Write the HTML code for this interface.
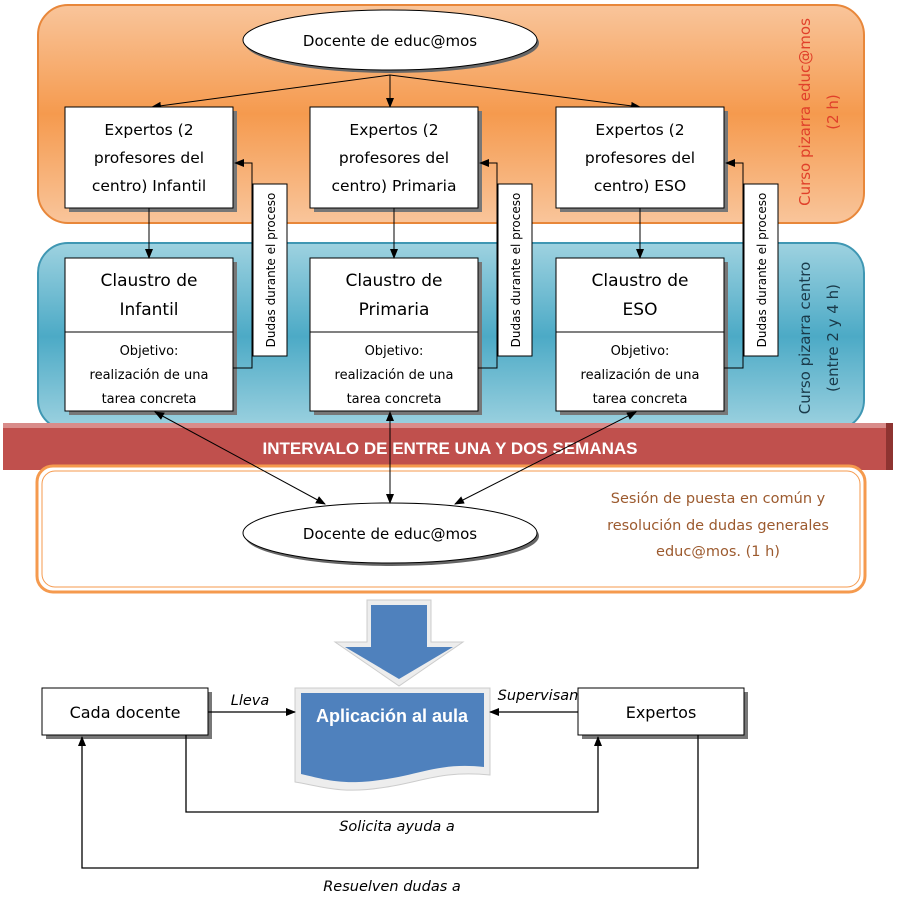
<!DOCTYPE html>
<html><head><meta charset="utf-8"><style>
html,body{margin:0;padding:0;background:#fff;}
svg{display:block;font-family:"Liberation Sans",sans-serif;}
.c{font-family:"DejaVu Sans","Liberation Sans",sans-serif;}
</style></head><body>
<svg width="904" height="900" viewBox="0 0 904 900" xmlns="http://www.w3.org/2000/svg">
<defs>
<linearGradient id="og" x1="0" y1="0" x2="0" y2="1">
<stop offset="0" stop-color="#F9C59B"/><stop offset="0.5" stop-color="#F59A4E"/><stop offset="1" stop-color="#F9C59B"/></linearGradient>
<linearGradient id="bg" x1="0" y1="0" x2="0" y2="1">
<stop offset="0" stop-color="#9ED2E0"/><stop offset="0.5" stop-color="#4CAAC6"/><stop offset="1" stop-color="#9ED2E0"/></linearGradient>
<marker id="a" markerWidth="10" markerHeight="8" refX="9" refY="4" orient="auto" markerUnits="userSpaceOnUse"><path d="M0,0 L10,4 L0,8z" fill="#000"/></marker>
<marker id="s" markerWidth="10" markerHeight="8" refX="1" refY="4" orient="auto" markerUnits="userSpaceOnUse"><path d="M10,0 L0,4 L10,8z" fill="#000"/></marker>
</defs>
<rect x="38" y="5" width="826" height="218" rx="30" fill="url(#og)" stroke="#E8873A" stroke-width="2"/>
<rect x="38" y="243" width="826" height="187" rx="30" fill="url(#bg)" stroke="#3F97B3" stroke-width="2"/>
<rect x="3" y="423" width="890" height="47" fill="#C0504D"/>
<rect x="3" y="423" width="890" height="5" fill="#D98C8A"/>
<rect x="886" y="423" width="7" height="47" fill="#8E3431"/>
<text x="450" y="454" text-anchor="middle" font-size="17" font-weight="bold" fill="#fff">INTERVALO DE ENTRE UNA Y DOS SEMANAS</text>
<rect x="37" y="466" width="828" height="126" rx="16" fill="#fff" stroke="#F59A4E" stroke-width="3"/>
<rect x="42" y="471" width="818" height="116" rx="13" fill="none" stroke="#F59A4E" stroke-width="1"/>
<g class="c" font-size="14.5" fill="#9C5A2E" text-anchor="middle">
<text x="718" y="503">Sesión de puesta en común y</text>
<text x="718" y="530">resolución de dudas generales</text>
<text x="718" y="556">educ@mos. (1 h)</text>
</g>
<g class="c" font-size="15" text-anchor="middle">
<text transform="translate(810,112) rotate(-90)" fill="#E0402A">Curso pizarra educ@mos</text>
<text transform="translate(838,112) rotate(-90)" fill="#E0402A">(2 h)</text>
<text transform="translate(810,338) rotate(-90)" fill="#1a3a4a">Curso pizarra centro</text>
<text transform="translate(838,338) rotate(-90)" fill="#1a3a4a">(entre 2 y 4 h)</text>
</g>
<ellipse cx="392" cy="43" rx="147" ry="30" fill="#666"/>
<ellipse cx="390" cy="40" rx="147" ry="30" fill="#fff" stroke="#000" stroke-width="1"/>
<text class="c" x="390" y="46" text-anchor="middle" font-size="15">Docente de educ@mos</text>
<g stroke="#000" stroke-width="1" fill="none">
<line x1="390" y1="75" x2="152" y2="107" marker-end="url(#a)"/>
<line x1="390" y1="75" x2="390" y2="107" marker-end="url(#a)"/>
<line x1="390" y1="75" x2="640" y2="107" marker-end="url(#a)"/>
</g>
<g id="col">
<rect x="69" y="111" width="168" height="101" fill="#777"/>
<rect x="65" y="107" width="168" height="101" fill="#fff" stroke="#000"/>
<rect x="69" y="262" width="168" height="153" fill="#777"/>
<rect x="65" y="258" width="168" height="153" fill="#fff" stroke="#000"/>
<line x1="65" y1="332" x2="233" y2="332" stroke="#000"/>
<line x1="149" y1="208" x2="149" y2="258" stroke="#000" marker-end="url(#a)"/>
<polyline points="233,368 252,368 252,163 235,163" fill="none" stroke="#000" marker-end="url(#a)"/>
<rect x="253" y="184" width="34" height="172" fill="#fff" stroke="#000"/>
</g>
<use href="#col" x="245"/>
<use href="#col" x="491"/>
<g class="c" font-size="12" text-anchor="middle">
<text transform="translate(275,270) rotate(-90)">Dudas durante el proceso</text>
<text transform="translate(520,270) rotate(-90)">Dudas durante el proceso</text>
<text transform="translate(766,270) rotate(-90)">Dudas durante el proceso</text>
</g>
<g class="c" font-size="15.5" text-anchor="middle">
<text x="149" y="135">Expertos (2</text><text x="149" y="163">profesores del</text><text x="149" y="191">centro) Infantil</text>
<text x="394" y="135">Expertos (2</text><text x="394" y="163">profesores del</text><text x="394" y="191">centro) Primaria</text>
<text x="640" y="135">Expertos (2</text><text x="640" y="163">profesores del</text><text x="640" y="191">centro) ESO</text>
<g font-size="17">
<text x="149" y="286">Claustro de</text><text x="149" y="315">Infantil</text>
<text x="394" y="286">Claustro de</text><text x="394" y="315">Primaria</text>
<text x="640" y="286">Claustro de</text><text x="640" y="315">ESO</text>
</g>
</g>
<g class="c" font-size="13" text-anchor="middle">
<text x="149" y="355">Objetivo:</text><text x="149" y="379">realización de una</text><text x="149" y="403">tarea concreta</text>
<text x="394" y="355">Objetivo:</text><text x="394" y="379">realización de una</text><text x="394" y="403">tarea concreta</text>
<text x="640" y="355">Objetivo:</text><text x="640" y="379">realización de una</text><text x="640" y="403">tarea concreta</text>
</g>
<ellipse cx="392" cy="536" rx="147" ry="30" fill="#666"/>
<ellipse cx="390" cy="533" rx="147" ry="30" fill="#fff" stroke="#000"/>
<text class="c" x="390" y="539" text-anchor="middle" font-size="15">Docente de educ@mos</text>
<g stroke="#000" stroke-width="1">
<line x1="155" y1="412" x2="325" y2="504" marker-start="url(#s)" marker-end="url(#a)"/>
<line x1="390" y1="412" x2="390" y2="503" marker-start="url(#s)" marker-end="url(#a)"/>
<line x1="636" y1="412" x2="455" y2="504" marker-start="url(#s)" marker-end="url(#a)"/>
</g>
<path d="M367,600 H431 V642 H463 L399,686 L335,642 H367Z" fill="#EDEDED" stroke="#ccc"/>
<path d="M371,605 H427 V647 H453 L399,679 L345,647 H371Z" fill="#4F81BD"/>
<path d="M295,688 H490 V775 C440,770 420,783 380,788 C340,794 320,786 295,782Z" fill="#EDEDED" stroke="#ccc"/>
<path d="M301,693 H484 V767 C440,762 420,775 380,780 C340,786 320,778 301,774Z" fill="#4F81BD"/>
<text x="392" y="722" text-anchor="middle" font-size="18" font-weight="bold" fill="#fff">Aplicación al aula</text>
<rect x="46" y="692" width="166" height="47" fill="#777"/>
<rect x="42" y="688" width="166" height="47" fill="#fff" stroke="#000"/>
<text class="c" x="125" y="718" text-anchor="middle" font-size="16">Cada docente</text>
<rect x="582" y="692" width="166" height="47" fill="#777"/>
<rect x="578" y="688" width="166" height="47" fill="#fff" stroke="#000"/>
<text class="c" x="661" y="718" text-anchor="middle" font-size="16">Expertos</text>
<g stroke="#000" stroke-width="1.3" fill="none">
<line x1="208" y1="712" x2="295" y2="712" marker-end="url(#a)"/>
<line x1="578" y1="712" x2="490" y2="712" marker-end="url(#a)"/>
<polyline points="186,735 186,812 598,812 598,737" marker-end="url(#a)"/>
<polyline points="698,735 698,868 82,868 82,737" marker-end="url(#a)"/>
</g>
<g class="c" font-size="14.5" font-style="italic" text-anchor="middle">
<text x="250" y="705">Lleva</text>
<text x="538" y="700">Supervisan</text>
<text x="397" y="831">Solicita ayuda a</text>
<text x="392" y="891">Resuelven dudas a</text>
</g>
</svg>
</body></html>
